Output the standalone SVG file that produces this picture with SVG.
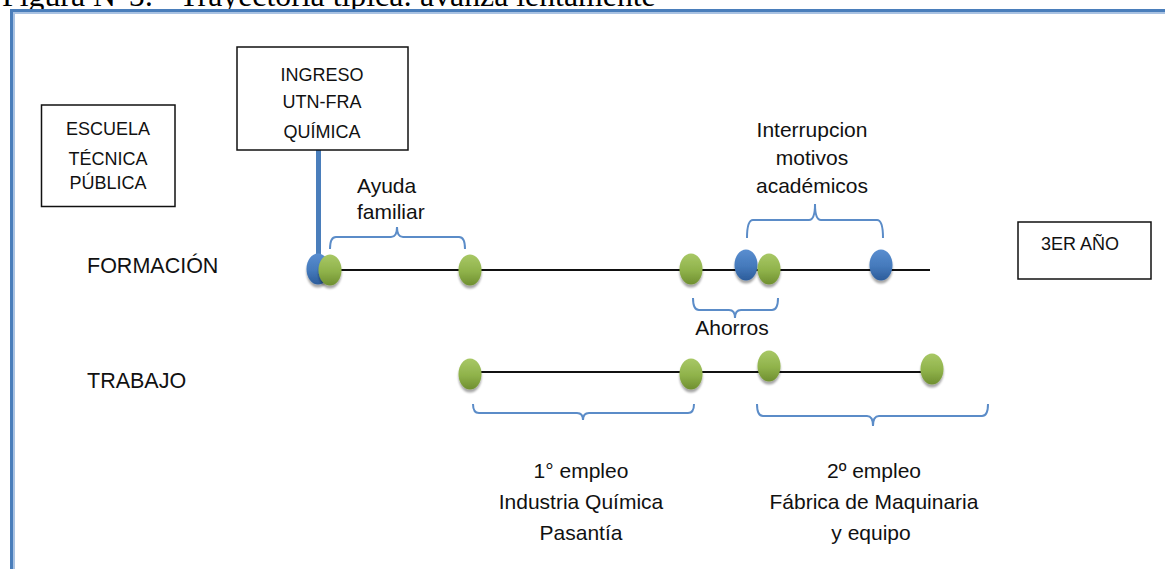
<svg xmlns="http://www.w3.org/2000/svg" width="1165" height="569" viewBox="0 0 1165 569">
<defs>
<linearGradient id="gG" x1="0" y1="0" x2="0" y2="1">
<stop offset="0" stop-color="#a8c866"/><stop offset="0.55" stop-color="#8fb24a"/><stop offset="1" stop-color="#6f8f30"/>
</linearGradient>
<linearGradient id="gB" x1="0" y1="0" x2="0" y2="1">
<stop offset="0" stop-color="#5a8ed0"/><stop offset="0.55" stop-color="#4479bb"/><stop offset="1" stop-color="#2c5c9a"/>
</linearGradient>
<filter id="sh" x="-50%" y="-50%" width="200%" height="200%">
<feDropShadow dx="0" dy="3" stdDeviation="1.3" flood-color="#000" flood-opacity="0.35"/>
</filter>
</defs>
<style>
.box{fill:#fff;stroke:#111;stroke-width:1.5}
.bl{font-family:"Liberation Sans",Arial,sans-serif;font-size:18px;fill:#111;text-anchor:middle}
.row{font-family:"Liberation Sans",Arial,sans-serif;font-size:21.5px;fill:#111}
.lab{font-family:"Liberation Sans",Arial,sans-serif;font-size:21px;fill:#111}
.mid{text-anchor:middle}
.tl{stroke:#111;stroke-width:2;fill:none}
.br{stroke:#5b8cc8;stroke-width:2;fill:none}
.g{fill:url(#gG);filter:url(#sh)}
.b{fill:url(#gB);filter:url(#sh)}
</style>
<rect width="1165" height="569" fill="#fff"/>
<text x="2" y="6" font-family="'Liberation Serif','Times New Roman',serif" font-size="31.8" fill="#000">Figura N°5: - Trayectoria típica: avanza lentamente</text>
<g id="frame">
<rect x="11.5" y="10.5" width="1200" height="620" fill="none" stroke="#4a7ebb" stroke-width="3"/>
<rect x="14" y="13" width="1200" height="620" fill="none" stroke="#a9c2e2" stroke-width="2"/>
</g>
<g id="connectors">
<line class="tl" x1="318" y1="270" x2="930" y2="270"/>
<line class="tl" x1="470" y1="372" x2="932" y2="372"/>
<line x1="318.5" y1="150" x2="318.5" y2="262" stroke="#4a7ebb" stroke-width="5"/>
<path class="br" d="M330,249 Q330,237 336,237 H391 Q397,237 397,227 Q397,237 403,237 H459 Q465,237 465,249"/>
<path class="br" d="M747,238 Q747,220 753,220 H809 Q815,220 815,204 Q815,220 821,220 H877 Q883,220 883,238"/>
<path class="br" d="M693,298 Q693,310 699,310 H729 Q735,310 735,318 Q735,310 741,310 H772 Q778,310 778,298"/>
<path class="br" d="M473,404 Q473,413 479,413 H577 Q583,413 583,420 Q583,413 589,413 H688 Q694,413 694,404"/>
<path class="br" d="M757,404 Q757,416 763,416 H867 Q873,416 873,426 Q873,416 879,416 H982 Q988,416 988,404"/>
</g>
<g id="escuela">
<rect class="box" x="41.5" y="105" width="133.5" height="101.5"/>
<text class="bl" x="108" y="135">ESCUELA</text>
<text class="bl" x="108" y="165">TÉCNICA</text>
<text class="bl" x="108" y="189">PÚBLICA</text>
</g>
<g id="ingreso">
<rect class="box" x="237" y="47" width="171" height="103"/>
<text class="bl" x="322" y="81">INGRESO</text>
<text class="bl" x="322" y="108">UTN-FRA</text>
<text class="bl" x="322" y="138">QUÍMICA</text>
</g>
<g id="tercer-anio">
<rect class="box" x="1018" y="222" width="133" height="57"/>
<text class="bl" x="1080" y="250" font-size="18.5">3ER AÑO</text>
</g>
<g id="formacion">
<text class="row" x="87" y="273">FORMACIÓN</text>
<ellipse class="b" cx="318" cy="269" rx="11.5" ry="15.5"/>
<ellipse class="g" cx="330" cy="270" rx="11.5" ry="15.5"/>
<ellipse class="g" cx="470" cy="270" rx="11.5" ry="15.5"/>
<ellipse class="g" cx="691" cy="269" rx="11.5" ry="15.5"/>
<ellipse class="b" cx="746" cy="265" rx="11.5" ry="15.5"/>
<ellipse class="g" cx="769" cy="269" rx="11.5" ry="15.5"/>
<ellipse class="b" cx="881" cy="265" rx="11.5" ry="15.5"/>
</g>
<g id="trabajo">
<text class="row" x="87" y="388">TRABAJO</text>
<ellipse class="g" cx="470" cy="374" rx="11.5" ry="15.5"/>
<ellipse class="g" cx="691" cy="374" rx="11.5" ry="15.5"/>
<ellipse class="g" cx="769" cy="366" rx="11.5" ry="15.5"/>
<ellipse class="g" cx="932" cy="369" rx="11.5" ry="15.5"/>
</g>
<g id="ayuda">
<text class="lab" x="357" y="193">Ayuda</text>
<text class="lab" x="357" y="219">familiar</text>
</g>
<g id="interrupcion">
<text class="lab mid" x="812" y="137">Interrupcion</text>
<text class="lab mid" x="812" y="165">motivos</text>
<text class="lab mid" x="812" y="193">académicos</text>
</g>
<g id="ahorros">
<text class="lab mid" x="732" y="335">Ahorros</text>
</g>
<g id="empleo1">
<text class="lab mid" x="581" y="478">1° empleo</text>
<text class="lab mid" x="581" y="509">Industria Química</text>
<text class="lab mid" x="581" y="540">Pasantía</text>
</g>
<g id="empleo2">
<text class="lab mid" x="874" y="478">2º empleo</text>
<text class="lab mid" x="874" y="509">Fábrica de Maquinaria</text>
<text class="lab mid" x="871" y="540">y equipo</text>
</g>
</svg>
